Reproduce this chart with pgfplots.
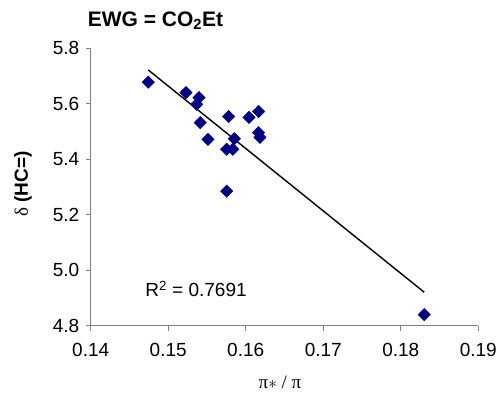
\documentclass[border=0pt]{standalone}
\usepackage{fontspec}
\setmainfont{Liberation Sans}
\newfontfamily\seriffont{Liberation Serif}
\usepackage{pgfplots}
\pgfplotsset{compat=1.18}
\definecolor{navy}{RGB}{0,0,128}
\definecolor{axgray}{RGB}{128,128,128}
\pgfplotstableread{
x y
0.14743 5.678
0.15229 5.640
0.15397 5.622
0.15367 5.598
0.15780 5.554
0.16041 5.551
0.16166 5.572
0.15413 5.532
0.16166 5.496
0.16183 5.479
0.15513 5.472
0.15852 5.474
0.15754 5.436
0.15835 5.436
0.15754 5.285
0.18302 4.840
}\datatable
\begin{document}
\begin{tikzpicture}
\path[use as bounding box] (-90.7pt,-67.3pt) rectangle (409.3pt,325.7pt);
\begin{axis}[
  at={(0pt,0pt)}, anchor=south west,
  scale only axis, width=387.6pt, height=277.4pt,
  xmin=0.14, xmax=0.19, ymin=4.8, ymax=5.8,
  axis x line=bottom, axis y line=left,
  axis line style={axgray, line width=1pt, -},
  xtick={0.14,0.15,0.16,0.17,0.18,0.19},
  ytick={4.8,5.0,5.2,5.4,5.6,5.8},
  tick align=outside, major tick length=5pt,
  tick style={axgray, line width=1pt},
  xticklabel style={/pgf/number format/.cd, fixed, fixed zerofill, precision=2, /tikz/.cd, yshift=-9pt},
  yticklabel style={/pgf/number format/.cd, fixed, fixed zerofill, precision=1, /tikz/.cd, xshift=-3pt},
  /pgf/number format/assume math mode=true,
  tick label style={font=\fontsize{19}{22}\selectfont, black},
  xlabel={{\seriffont π$\ast$ / π}},
  xlabel style={at={(axis description cs:0.5,0)}, anchor=base, yshift=-62.3pt, xshift=-4.5pt, font=\fontsize{19}{22}\selectfont},
  ylabel={{\seriffont δ} \textbf{(HC=)}},
  ylabel style={at={(axis description cs:-0.1747,0.5108)}, anchor=center, font=\fontsize{19}{22}\selectfont},
  title={\textbf{EWG = CO\textsubscript{2}Et}},
  title style={at={(axis description cs:0,1)}, anchor=base, xshift=64.8pt, yshift=16pt, font=\fontsize{21}{24}\selectfont},
  clip=false,
]
\addplot[only marks, mark=square*, mark size=4.4pt, mark options={rotate=45, fill=navy, draw=navy}] table[x=x, y=y] {\datatable};
\addplot[black, line width=1.4pt] coordinates {(0.14743,5.7218) (0.18302,4.9207)};
\node[font=\fontsize{19}{22}\selectfont] at (axis cs:0.15358,4.9326) {R\textsuperscript{2} = 0.7691};
\end{axis}
\end{tikzpicture}
\end{document}
